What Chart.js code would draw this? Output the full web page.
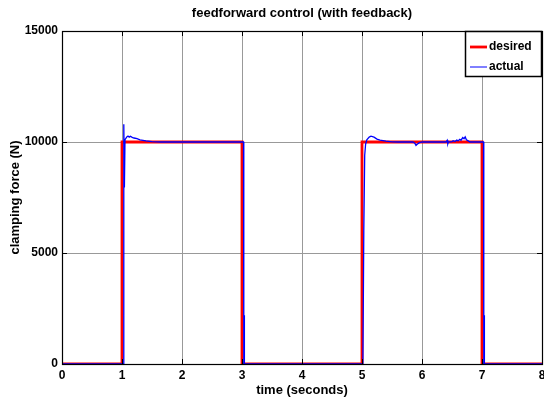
<!DOCTYPE html>
<html>
<head>
<meta charset="utf-8">
<script src="https://cdn.jsdelivr.net/npm/chart.js@4.4.1/dist/chart.umd.min.js"></script>
<style>
html,body{margin:0;padding:0;background:#fff;}
#wrap{width:544px;height:400px;position:relative;}
</style>
</head>
<body>
<div id="wrap"><canvas id="c" width="544" height="400"></canvas></div>
<script>
// ---- data ----
const chartTitle = "feedforward control (with feedback)";
const xTitle = "time (seconds)";
const yTitle = "clamping force (N)";
const seriesNames = ["desired", "actual"];
const xTicks = [0, 1, 2, 3, 4, 5, 6, 7, 8];
const yTicks = [0, 5000, 10000, 15000];

const desiredT = [0, 1, 1, 3, 3, 5, 5, 7, 7, 8];
const desiredF = [0, 0, 10000, 10000, 0, 0, 10000, 10000, 0, 0];

const actualT = [0, 1.025, 1.03, 1.04, 1.05, 1.08, 1.1, 1.12, 1.14, 1.17, 1.2, 1.25, 1.3, 1.4, 1.5, 1.65,
  3.025, 3.03, 3.035, 3.04,
  5.015, 5.03, 5.045, 5.06, 5.08, 5.12, 5.15, 5.2, 5.25, 5.3, 5.4, 5.5, 5.6,
  5.85, 5.88, 5.9, 5.92, 5.95, 6.0, 6.4, 6.42, 6.43, 6.44, 6.5, 6.52, 6.55, 6.58, 6.6, 6.63, 6.65, 6.68, 6.7, 6.72, 6.74, 6.77, 6.8,
  7.025, 7.03, 7.035, 7.04, 8];
const actualF = [0, 0, 10800, 7950, 10100, 10230, 10270, 10220, 10260, 10210, 10180, 10150, 10100, 10050, 10020, 10000,
  10000, 0, 2200, 0,
  0, 6000, 9400, 9900, 10100, 10220, 10260, 10220, 10130, 10080, 10040, 10010, 10000,
  10000, 9950, 9850, 9900, 9960, 10000, 10000, 10080, 9920, 10000, 10020, 10060, 10020, 10090, 10050, 10120, 10080, 10200, 10150, 10230, 10100, 10050, 10000,
  10000, 0, 2200, 0, 0];

const toPts = (t, f) => t.map((v, i) => ({x: v, y: f[i]}));

const FONT = "'Liberation Sans', Arial, sans-serif";

const decor = {
  id: 'decor',
  afterDatasetsDraw(chart) {
    const {ctx, chartArea: a, scales} = chart;
    ctx.save();
    ctx.strokeStyle = '#000';
    ctx.lineWidth = 1;
    ctx.beginPath();
    // inward ticks
    xTicks.forEach(v => {
      const x = Math.round(scales.x.getPixelForValue(v)) + 0.5;
      ctx.moveTo(x, a.bottom); ctx.lineTo(x, a.bottom - 5);
      ctx.moveTo(x, a.top); ctx.lineTo(x, a.top + 5);
    });
    yTicks.forEach(v => {
      const y = Math.round(scales.y.getPixelForValue(v)) + 0.5;
      ctx.moveTo(a.left, y); ctx.lineTo(a.left + 5, y);
      ctx.moveTo(a.right, y); ctx.lineTo(a.right - 5, y);
    });
    ctx.stroke();
    // frame
    ctx.lineWidth = 1.2;
    ctx.strokeRect(Math.round(a.left) + 0.5, Math.round(a.top) + 0.5,
      Math.round(a.right - a.left), Math.round(a.bottom - a.top));
    ctx.restore();
  },
  afterDraw(chart) {
    const {ctx, chartArea: a} = chart;
    ctx.save();
    // title
    ctx.fillStyle = '#000';
    ctx.font = "bold 13px " + FONT;
    ctx.textAlign = 'center';
    ctx.textBaseline = 'middle';
    ctx.fillText(chartTitle, (a.left + a.right) / 2, 13);
    // legend
    const bx = 465.5, by = 31.5, bw = 76, bh = 45;
    ctx.fillStyle = '#fff';
    ctx.fillRect(bx, by, bw, bh);
    ctx.strokeStyle = '#000';
    ctx.lineWidth = 1.5;
    ctx.strokeRect(bx, by, bw, bh);
    const colors = ['#ff0000', '#0000ff'];
    const widths = [2.8, 1];
    const ys = [47, 67];
    ctx.font = "bold 12px " + FONT;
    ctx.textAlign = 'left';
    seriesNames.forEach((n, i) => {
      ctx.strokeStyle = colors[i];
      ctx.lineWidth = widths[i];
      ctx.beginPath();
      ctx.moveTo(470, ys[i]); ctx.lineTo(487, ys[i]);
      ctx.stroke();
      ctx.fillStyle = '#000';
      ctx.fillText(n, 489, ys[i]);
    });
    ctx.restore();
  }
};

new Chart(document.getElementById('c'), {
  type: 'line',
  data: {
    datasets: [
      {label: seriesNames[0], data: toPts(desiredT, desiredF), borderColor: '#ff0000', borderWidth: 2.8,
       pointRadius: 0, tension: 0, fill: false, order: 1},
      {label: seriesNames[1], data: toPts(actualT, actualF), borderColor: '#0000ff', borderWidth: 1.3,
       pointRadius: 0, tension: 0, fill: false, order: 0}
    ]
  },
  options: {
    responsive: false,
    animation: false,
    devicePixelRatio: 1,
    layout: {padding: {top: 31, right: 2, bottom: 0, left: 0}},
    plugins: {legend: {display: false}, tooltip: {enabled: false}, title: {display: false}},
    scales: {
      x: {
        type: 'linear', min: 0, max: 8,
        afterBuildTicks: s => { s.ticks = xTicks.map(v => ({value: v})); },
        ticks: {color: '#000', font: {family: FONT, size: 12, weight: 'bold'}, padding: 4, maxRotation: 0,
                autoSkip: false, callback: v => String(v)},
        grid: {color: '#999', lineWidth: 1, drawTicks: false},
        border: {display: false},
        title: {display: true, text: xTitle, color: '#000', font: {family: FONT, size: 13, weight: 'bold'},
                padding: {top: 0, bottom: 2}},
        afterFit: s => { s.height = 36; s.paddingLeft = 0; s.paddingRight = 0; }
      },
      y: {
        type: 'linear', min: 0, max: 15000,
        afterBuildTicks: s => { s.ticks = yTicks.map(v => ({value: v})); },
        ticks: {color: '#000', font: {family: FONT, size: 12, weight: 'bold'}, padding: 4, autoSkip: false,
                callback: v => String(v)},
        grid: {color: '#999', lineWidth: 1, drawTicks: false},
        border: {display: false},
        title: {display: true, text: yTitle, color: '#000', font: {family: FONT, size: 13, weight: 'bold'},
                padding: {top: 8, bottom: 0}},
        afterFit: s => { s.width = 62; s.paddingTop = 0; s.paddingBottom = 0; }
      }
    }
  },
  plugins: [decor]
});
</script>
</body>
</html>
